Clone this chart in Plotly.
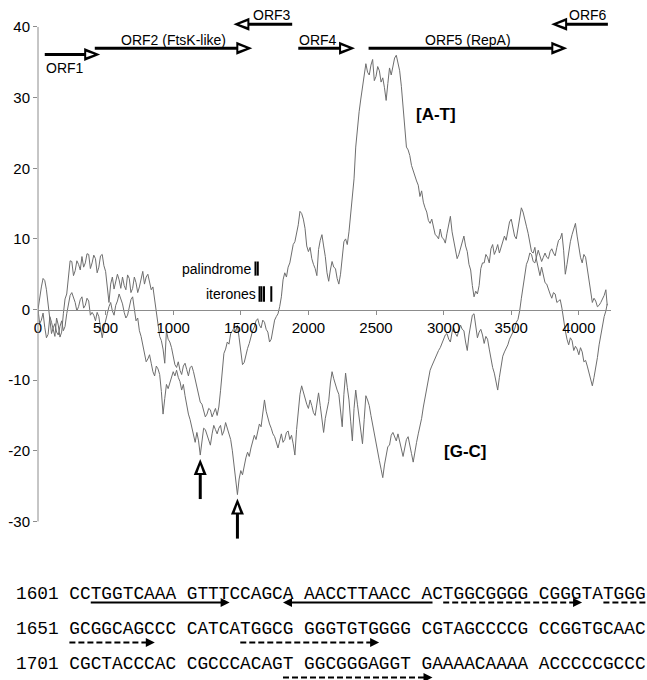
import plotly.graph_objects as go

# ---------------- data ----------------
# cumulative skew, sampled every 12.5 bp (last point at 4210 bp)
at_skew = [
    0, -2.0, -1.5, -0.5, -2.5, -4.0, -3.5, -1.0, -1.8, -3.0, -3.8, -1.2, -2.2, -3.9, -3.2, -0.6, 1.5, 2.2, 4.5, 6.9,
    6.8, 4.8, 5.5, 6.9, 6.4, 5.6, 7.5, 6.0, 6.6, 7.9, 7.8, 5.8, 6.6, 7.7, 7.2, 5.2, 6.0, 7.6, 7.8, 6.2,
    5.4, 3.0, 1.0, 3.6, 4.6, 2.9, 3.8, 5.0, 4.2, 3.0, 4.6, 3.4, 2.8, 4.9, 4.4, 2.4, 3.0, 4.6, 3.8, 2.4,
    3.2, 4.4, 5.4, 3.6, 4.6, 5.0, 4.0, 2.8, 3.2, 1.6, -0.5, -2.0, -3.8, -4.4, -5.6, -7.6, -3.0, -4.2, -4.6, -5.4,
    -6.5, -7.8, -8.2, -7.4, -8.6, -9.2, -8.0, -7.6, -8.5, -9.4, -8.2, -8.0, -8.8, -9.8, -11.0, -11.8, -13.1, -13.4, -14.2, -15.2,
    -14.8, -14.0, -14.2, -15.2, -14.6, -14.0, -15.0, -13.8, -11.5, -8.8, -6.2, -5.6, -4.6, -4.9, -3.4, -3.0, -2.6, -3.1, -2.2, -4.0,
    -6.0, -7.8, -7.5, -6.4, -5.5, -4.8, -3.8, -3.0, -2.5, -1.6, -1.3, -2.2, -2.6, -1.5, -1.8, -2.8, -3.2, -4.6, -4.2, -2.8,
    -1.5, -1.0, -0.6, 0.4, 1.8, 4.2, 5.2, 4.6, 6.0, 6.6, 8.0, 9.2, 9.6, 10.6, 12.0, 13.9, 13.6, 12.8, 11.5, 9.0,
    8.2, 8.8, 7.2, 6.4, 5.8, 4.8, 8.5, 9.8, 10.6, 9.0, 7.5, 5.2, 4.0, 5.6, 6.8, 6.0, 5.8, 4.4, 3.6, 5.0,
    7.5, 9.6, 10.0, 9.2, 11.0, 13.6, 15.5, 18.5, 23.0, 26.0, 28.0, 29.8, 31.5, 33.5, 34.8, 33.6, 33.2, 34.6, 35.4, 32.4,
    33.0, 34.4, 33.8, 32.2, 32.8, 31.4, 29.6, 32.0, 34.2, 33.2, 34.6, 35.6, 36.0, 35.0, 33.8, 31.6, 29.0, 25.6, 23.0, 22.6,
    21.8, 20.4, 19.6, 19.0, 18.2, 17.6, 16.0, 16.8, 15.2, 14.4, 13.8, 12.6, 12.2, 12.8, 11.8, 10.6, 10.4, 10.0, 11.4, 10.2,
    10.0, 9.4, 10.8, 12.0, 13.2, 11.0, 9.6, 8.0, 7.2, 7.8, 8.6, 9.6, 10.4, 9.0, 8.2, 6.4, 5.6, 3.4, 1.8, 2.6,
    2.2, 3.4, 5.8, 6.6, 6.6, 7.8, 7.4, 6.6, 8.6, 9.2, 7.8, 8.4, 9.2, 8.0, 8.8, 9.6, 10.4, 9.8, 11.2, 12.4,
    12.8, 11.6, 10.4, 10.0, 11.6, 13.2, 14.4, 13.8, 12.6, 11.8, 10.8, 9.4, 8.2, 8.0, 8.8, 7.0, 5.6, 4.8, 6.0, 4.6,
    3.8, 3.6, 2.8, 2.2, 1.6, 2.4, 2.2, 1.0, 1.2, 1.4, 0.2, -1.6, -3.0, -4.2, -5.0, -4.0, -4.4, -5.8, -5.2, -5.6,
    -6.4, -5.4, -6.0, -7.4, -7.2, -8.0, -9.0, -10.2, -10.8, -9.6, -8.4, -6.8, -5.0, -3.6, -2.6, -1.0, -0.2,
    0.8,
]

gc_skew = [
    0, 2.0, 3.2, 4.4, 4.1, 2.8, 1.0, -1.6, -3.4, -2.6, -2.0, -3.2, -3.6, -2.4, -1.6, -3.0, -2.4, -0.6, 0.8, 2.0,
    2.4, 1.6, 1.0, -0.2, 0.4, 1.4, 1.8, 0.2, 0.6, 1.6, 1.2, -0.8, -0.4, -0.8, -1.6, -0.4, -1.0, -2.6, -4.0, -2.6,
    -1.4, -0.6, 0.4, 1.0, -0.2, -0.8, 0.6, 1.2, 2.2, 1.6, 0.8, -0.4, -1.2, -0.8, 0.6, 1.4, 1.8, 0.2, -1.6, -1.2,
    -3.0, -3.8, -5.0, -6.2, -7.4, -7.0, -6.4, -7.6, -8.8, -9.4, -8.0, -8.4, -9.2, -11.6, -14.8, -12.6, -10.6, -11.2, -10.4, -9.4,
    -8.8, -9.4, -8.6, -9.6, -10.2, -11.4, -10.6, -12.2, -13.8, -14.8, -15.6, -16.6, -17.8, -18.8, -17.4, -18.6, -20.6, -18.4, -16.8, -17.0,
    -17.8, -18.4, -19.2, -17.6, -16.4, -17.0, -17.6, -16.8, -16.4, -17.8, -17.2, -16.0, -16.8, -17.6, -18.4, -20.0, -22.0, -24.2, -26.2, -24.0,
    -22.8, -23.4, -22.0, -21.0, -20.2, -20.8, -19.6, -18.6, -17.8, -18.4, -17.2, -16.2, -16.6, -14.6, -12.8, -14.4, -15.4, -16.2, -16.8, -17.6,
    -18.0, -18.8, -19.6, -18.6, -17.6, -18.8, -18.4, -17.4, -17.2, -18.4, -17.8, -19.0, -20.6, -17.0, -14.0, -12.0, -10.8, -11.8, -12.4, -13.4,
    -14.0, -12.8, -13.6, -14.6, -15.0, -13.2, -11.8, -13.6, -16.0, -17.4, -15.4, -14.0, -13.0, -10.4, -8.8, -9.8, -10.8, -11.4, -12.0, -14.2,
    -16.6, -12.0, -9.0, -11.0, -12.8, -15.8, -18.6, -14.0, -11.4, -13.4, -15.2, -17.4, -19.0, -15.6, -12.2, -12.8, -13.6, -15.0, -16.4, -17.8,
    -19.0, -20.2, -21.4, -22.6, -23.8, -22.0, -20.6, -19.4, -19.2, -17.8, -17.4, -18.0, -18.6, -17.6, -18.8, -20.0, -20.8, -19.6, -18.4, -18.0,
    -19.0, -20.4, -21.6, -20.0, -18.8, -17.6, -16.6, -15.4, -13.8, -12.4, -11.4, -9.6, -8.6, -8.0, -7.4, -7.0, -6.4, -5.8, -5.4, -4.8,
    -4.4, -3.6, -3.4, -4.2, -4.6, -3.2, -2.6, -3.4, -3.8, -2.8, -2.2, -2.8, -3.0, -4.6, -5.8, -3.6, -2.4, -0.8, -0.6, -2.6,
    -4.0, -3.2, -2.8, -3.6, -4.8, -3.8, -4.2, -5.6, -7.2, -8.2, -9.0, -10.4, -11.4, -9.6, -8.0, -6.6, -6.0, -5.6, -5.0, -4.2,
    -3.6, -3.2, -2.8, -1.8, -1.4, -0.2, 1.6, 3.4, 5.0, 6.4, 7.0, 8.0, 7.8, 6.8, 6.6, 7.6, 8.4, 7.6, 6.8, 7.4,
    8.0, 7.4, 7.2, 8.2, 8.6, 8.0, 7.6, 8.8, 9.8, 10.0, 10.8, 8.4, 5.0, 6.4, 8.2, 9.6, 10.6, 11.4, 12.2, 10.4,
    8.8, 7.4, 6.6, 7.8, 7.4, 5.8, 4.6, 2.8, 1.0, 1.6, 1.2, 0.4, 0.6, 1.0, 1.4, 2.0, 2.8,
    0.6,
]

STEP = 12.5
END_BP = 4210


def bp_axis(values):
    return [i * STEP for i in range(len(values) - 1)] + [END_BP]


orf_names = ["ORF1", "ORF2 (FtsK-like)", "ORF3", "ORF4", "ORF5 (RepA)", "ORF6"]
orf_start = [50, 420, 1880, 1925, 2445, 4215]
orf_end = [460, 1585, 1445, 2345, 3915, 3795]

palindrome_arms = [(1603, 1614), (1620, 1631)]
iterons = [(1633, 1644), (1647, 1658), (1666, 1677), (1720, 1731)]
origin_marks = [1200, 1475]

seq_first = 1601
sequence = ("CCTGGTCAAAGTTTCCAGCAAACCTTAACCACTGGCGGGGCGGGTATGGG"
            "GCGGCAGCCCCATCATGGCGGGGTGTGGGGCGTAGCCCCGCCGGTGCAAC"
            "CGCTACCCACCGCCCACAGTGGCGGGAGGTGAAAACAAAAACCCCCGCCC")

x_ticks = list(range(0, 4001, 500))
y_ticks = list(range(-30, 41, 10))

# ---------------- geometry ----------------
W, H = 647, 680
ML, MR, MT, MB = 38, 36, 6, 131
PW, PH = W - ML - MR, H - MT - MB
X_RANGE = [0, 4238]
Y_RANGE = [-33.9, 42.97]

SANS = "Liberation Sans, Arial, sans-serif"
MONO = "Liberation Mono, Courier New, monospace"
GREY = "#6e6e6e"
AXIS_GREY = "#8c8c8c"


def xpx(x):
    return ML + (x - X_RANGE[0]) / (X_RANGE[1] - X_RANGE[0]) * PW


def ypx(y):
    return MT + (Y_RANGE[1] - y) / (Y_RANGE[1] - Y_RANGE[0]) * PH


def paper(px, py):
    return (px - ML) / PW, (MT + PH - py) / PH


def poly(points):
    pts = [paper(px, py) for px, py in points]
    return "M" + "L".join(f"{a:.5f},{b:.5f}" for a, b in pts) + "Z"


shapes = []
annotations = []


def add_poly(points, color):
    shapes.append(dict(type="path", xref="paper", yref="paper", path=poly(points),
                       fillcolor=color, line=dict(width=0), layer="above"))


def open_head(tx, ty, d, length=16, half=6.5):
    """Black arrowhead with a small white notch, tip at pixel (tx, ty)."""
    add_poly([(tx, ty), (tx - d * length, ty - half), (tx - d * length, ty + half)], "black")
    add_poly([(tx - d * 6, ty), (tx - d * 14, ty - 2.8), (tx - d * 14, ty + 2.8)], "white")


def up_head(tx, ty, length=16, half=6.5):
    add_poly([(tx, ty), (tx - half, ty + length), (tx + half, ty + length)], "black")
    add_poly([(tx, ty + 6), (tx - 2.8, ty + 14), (tx + 2.8, ty + 14)], "white")


def add_line(p0, p1, width, dash="solid"):
    a, b = paper(*p0), paper(*p1)
    shapes.append(dict(type="line", xref="paper", yref="paper",
                       x0=a[0], y0=a[1], x1=b[0], y1=b[1],
                       line=dict(color="black", width=width, dash=dash)))


# ---------------- ORF arrows ----------------
orf_lane = {"ORF1": 36.1, "ORF3": 40.4, "ORF6": 40.4}
orf_label = {  # anchor, vertical offset (px, + is up)
    "ORF1": ("left", -13),
    "ORF2 (FtsK-like)": ("center", 8),
    "ORF3": ("right", 9),
    "ORF4": ("left", 8),
    "ORF5 (RepA)": ("center", 8),
    "ORF6": ("right", 9),
}
for name, s, e in zip(orf_names, orf_start, orf_end):
    lane = orf_lane.get(name, 37.0)
    d = 1 if e > s else -1
    sx, ex, ly = xpx(s), xpx(e), ypx(lane)
    add_line((sx, ly), (ex - d * 10, ly), 3)
    open_head(ex, ly, d)
    anchor, dy = orf_label[name]
    if anchor == "left":
        tx = min(sx, ex)
    elif anchor == "right":
        tx = max(sx, ex)
    else:
        tx = (sx + ex) / 2
    p = paper(tx, ly - dy)
    annotations.append(dict(text=name, x=p[0], y=p[1], xref="paper", yref="paper",
                            xanchor=anchor, yanchor="middle", showarrow=False,
                            font=dict(family=SANS, size=14, color="black"),
                            borderpad=0))

# ---------------- origin arrows ----------------
gc_bp = bp_axis(gc_skew)
for pos in origin_marks:
    gy = gc_skew[gc_bp.index(pos)]
    hx, hy = xpx(pos), ypx(gy) + 4
    add_line((hx, hy + 10), (hx, hy + 40), 3)
    up_head(hx, hy)

# ---------------- palindrome / iteron ticks ----------------
for lo, hi in palindrome_arms:
    c = (lo + hi) / 2
    shapes.append(dict(type="line", xref="x", yref="y", x0=c, x1=c, y0=4.8, y1=6.8,
                       line=dict(color="black", width=2)))
for lo, hi in iterons:
    c = (lo + hi) / 2
    shapes.append(dict(type="line", xref="x", yref="y", x0=c, x1=c, y0=1.1, y1=3.3,
                       line=dict(color="black", width=2)))
annotations.append(dict(text="palindrome", x=min((a + b) / 2 for a, b in palindrome_arms),
                        y=5.8, xref="x", yref="y", xanchor="right", yanchor="middle",
                        xshift=-3, showarrow=False, borderpad=0,
                        font=dict(family=SANS, size=14, color="black")))
annotations.append(dict(text="iterones", x=min((a + b) / 2 for a, b in iterons),
                        y=2.2, xref="x", yref="y", xanchor="right", yanchor="middle",
                        xshift=-3, showarrow=False, borderpad=0,
                        font=dict(family=SANS, size=14, color="black")))

# ---------------- curve labels ----------------
annotations.append(dict(text="<b>[A-T]</b>", x=2944, y=27.6, xref="x", yref="y",
                        showarrow=False, font=dict(family=SANS, size=17, color="black")))
annotations.append(dict(text="<b>[G-C]</b>", x=3158, y=-20.1, xref="x", yref="y",
                        showarrow=False, font=dict(family=SANS, size=17, color="black")))

# ---------------- sequence panel ----------------
FS = 17.8
CW = 0.6 * FS
X0 = 16.0
ROW_Y = [594, 629, 664]
UNDER = [8.5, 13.5, 13.5]

for r in range(3):
    chunk = sequence[r * 50:(r + 1) * 50]
    groups = [chunk[i:i + 10] for i in range(0, 50, 10)]
    line = f"{seq_first + r * 50} " + " ".join(groups)
    p = paper(X0, ROW_Y[r])
    annotations.append(dict(text=line, x=p[0], y=p[1], xref="paper", yref="paper",
                            xanchor="left", yanchor="middle", showarrow=False,
                            borderpad=0, borderwidth=0,
                            font=dict(family=MONO, size=FS, color="black")))


def char_slot(nt):
    k = (nt - seq_first) % 50
    return (nt - seq_first) // 50, 5 + k + k // 10


def small_head(tx, ty, d, length=9, half=4.5):
    add_poly([(tx, ty), (tx - d * length, ty - half), (tx - d * length, ty + half)], "black")


def feature(lo, hi, d, dashed):
    r0, i0 = char_slot(lo)
    r1, i1 = char_slot(hi)
    segs = [(r0, i0, i1 + 1)] if r0 == r1 else [(r0, i0, 59), (r1, 5, i1 + 1)]
    for k, (r, a, b) in enumerate(segs):
        y = ROW_Y[r] + UNDER[r]
        xa, xb = X0 + a * CW, X0 + b * CW
        last, first = k == len(segs) - 1, k == 0
        xb_line = xb - 7 if (d > 0 and last) else xb
        xa_line = xa + 7 if (d < 0 and first) else xa
        add_line((xa_line, y), (xb_line, y), 2.2, "6px,3px" if dashed else "solid")
        if d > 0 and last:
            small_head(xb, y, 1)
        if d < 0 and first:
            small_head(xa, y, -1)


feature(*palindrome_arms[0], 1, False)
feature(*palindrome_arms[1], -1, False)
for lo, hi in iterons:
    feature(lo, hi, 1, True)

# y axis line, drawn only over the labelled range
shapes.append(dict(type="line", xref="paper", yref="y", x0=0, x1=0, y0=-30, y1=40,
                   line=dict(color=AXIS_GREY, width=1)))

# ---------------- figure ----------------
fig = go.Figure()
fig.add_trace(go.Scatter(x=bp_axis(at_skew), y=at_skew, mode="lines", name="[A-T]",
                         line=dict(color=GREY, width=1)))
fig.add_trace(go.Scatter(x=gc_bp, y=gc_skew, mode="lines", name="[G-C]",
                         line=dict(color=GREY, width=1)))

zero_frac = (0 - Y_RANGE[0]) / (Y_RANGE[1] - Y_RANGE[0])

fig.update_layout(
    width=W, height=H,
    margin=dict(l=ML, r=MR, t=MT, b=MB, pad=0),
    paper_bgcolor="white", plot_bgcolor="white",
    showlegend=False,
    xaxis=dict(range=X_RANGE, anchor="free", position=zero_frac,
               showline=True, linecolor=AXIS_GREY, linewidth=1,
               ticks="outside", ticklen=4, tickcolor=AXIS_GREY,
               tickvals=x_ticks, ticktext=[str(v) for v in x_ticks],
               tickfont=dict(family=SANS, size=15, color="black"),
               showgrid=False, zeroline=False),
    yaxis=dict(range=Y_RANGE, showline=False,
               ticks="outside", ticklen=4, tickcolor=AXIS_GREY,
               tickvals=y_ticks, ticktext=[str(v) for v in y_ticks],
               tickfont=dict(family=SANS, size=15, color="black"),
               showgrid=False, zeroline=False),
    shapes=shapes,
    annotations=annotations,
)

fig.write_html("out.html")
